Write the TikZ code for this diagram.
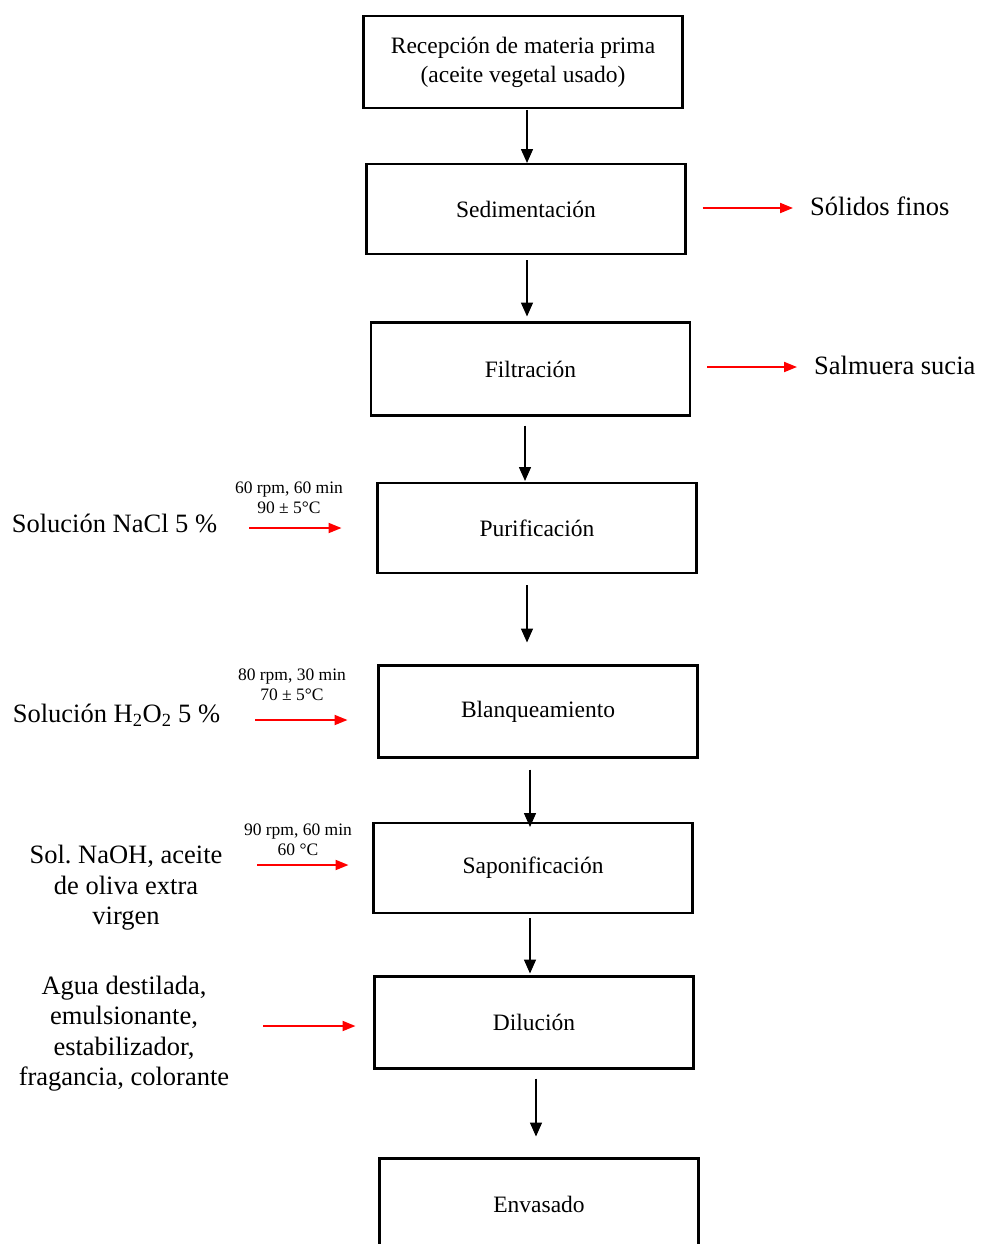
\documentclass[tikz,border=0pt]{standalone}
\usepackage{fontspec}
\setmainfont{Liberation Serif}
\frenchspacing
\usetikzlibrary{arrows.meta}
\tikzset{
  box/.style={draw,line width=2.6pt,minimum width=319pt,minimum height=90pt,
    inner sep=2pt,outer sep=0pt,align=center,font=\fontsize{23.5}{29}\selectfont},
  side/.style={align=center,inner sep=0pt,font=\fontsize{26.5}{30.5}\selectfont},
  cond/.style={align=center,inner sep=0pt,font=\fontsize{17.5}{19.5}\selectfont},
  flow/.style={line width=1.5pt,-{Triangle[length=14pt,width=12pt]}},
  redflow/.style={red,line width=2pt,-{Triangle[length=13pt,width=10pt]}}
}
\begin{document}
\begin{tikzpicture}[x=1pt,y=-1pt]
      \useasboundingbox[fill=white] (0,0) rectangle (980,1244);
      % etapas del proceso
      \path (523,62) node[box,minimum height=92pt] (rec) {Recepción de materia prima\\(aceite vegetal usado)};
      \path (526,209) node[box] (sed) {Sedimentación};
      \path (530.5,369) node[box,minimum height=93pt] (fil) {Filtración};
      \path (537,528) node[box] (pur) {Purificación};
      \path (538,711.5) node[box,minimum height=92pt] (bla) {Blanqueamiento};
      \path (533,868) node[box] (sap) {Saponificación};
      \path (534,1022.5) node[box,minimum height=92pt] (dil) {Dilución};
      \path (539,1204.5) node[box,minimum height=92pt] (env) {Envasado};
      % flechas principales
      \draw[flow,shorten <=2pt,shorten >=1pt] ([xshift=4pt]rec.south) -- ([xshift=1pt]sed.north);
      \draw[flow,shorten <=6pt,shorten >=6pt] ([xshift=1pt]sed.south) -- ([xshift=-3.5pt]fil.north);
      \draw[flow,shorten <=10pt,shorten >=2pt] ([xshift=-5.5pt]fil.south) -- ([xshift=-12pt]pur.north);
      \draw[flow,shorten <=12pt,shorten >=23pt] ([xshift=-10pt]pur.south) -- ([xshift=-11pt]bla.north);
      \draw[flow,shorten <=12pt,shorten >=-4pt] ([xshift=-8pt]bla.south) -- ([xshift=-3pt]sap.north);
      \draw[flow,shorten <=5pt,shorten >=3pt] ([xshift=-3pt]sap.south) -- ([xshift=-4pt]dil.north);
      \draw[flow,shorten <=10pt,shorten >=22pt] ([xshift=2pt]dil.south) -- ([xshift=-3pt]env.north);
      % salidas
      \path (810,206) node[side,anchor=west] (solidos) {Sólidos finos};
      \path (814,365) node[side,anchor=west] (salmuera) {Salmuera sucia};
      \draw[redflow,shorten <=17pt,shorten >=17pt] ([yshift=1pt]sed.east) -- ([yshift=1pt]sed.east -| solidos.west);
      \draw[redflow,shorten <=17pt,shorten >=17pt] ([yshift=2pt]fil.east) -- ([yshift=2pt]fil.east -| salmuera.west);
      % entradas
      \path (114.5,523) node[side] (nacl) {Solución NaCl 5 \%};
      \path (116.5,715) node[side] (perox) {Solución H\textsubscript{2}O\textsubscript{2} 5 \%};
      \path (126,888) node[side] (naoh) {Sol. NaOH, aceite\\de oliva extra\\virgen};
      \path (124,1033.5) node[side] (agua) {Agua destilada,\\emulsionante,\\estabilizador,\\fragancia, colorante};
      \path (289,498) node[cond] (condpur) {60 rpm, 60 min\\90 ± 5°C};
      \path (292,685) node[cond] (condbla) {80 rpm, 30 min\\70 ± 5°C};
      \path (298,840) node[cond] (condsap) {90 rpm, 60 min\\60 °C};
      \coordinate (innacl) at (249,528);
      \coordinate (inperox) at (255,720);
      \coordinate (innaoh) at (257,865);
      \coordinate (inagua) at (263,1026);
      \draw[redflow,shorten >=36pt] (innacl) -- (innacl -| pur.west);
      \draw[redflow,shorten >=31pt] (inperox) -- (inperox -| bla.west);
      \draw[redflow,shorten >=25pt] (innaoh) -- (innaoh -| sap.west);
      \draw[redflow,shorten >=19pt] (inagua) -- (inagua -| dil.west);
     \end{tikzpicture}
\end{document}
